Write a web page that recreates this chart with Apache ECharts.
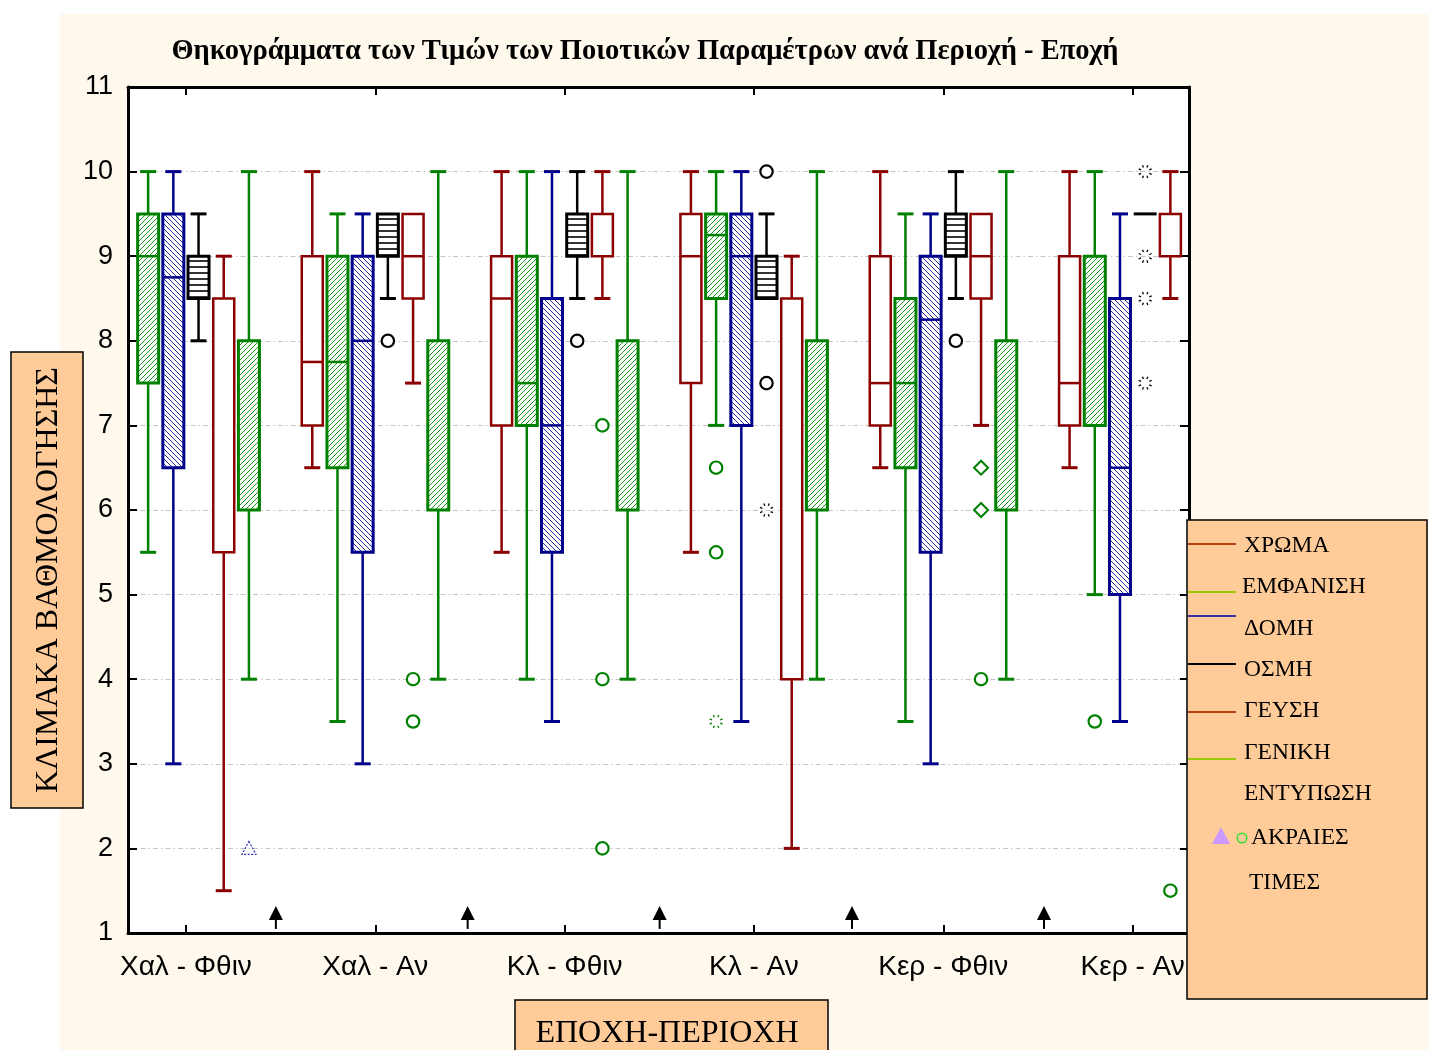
<!DOCTYPE html>
<html><head><meta charset="utf-8">
<script src="https://cdn.jsdelivr.net/npm/echarts/dist/echarts.min.js"></script>
<style>
html,body{margin:0;padding:0;background:#ffffff;}
#bg{position:absolute;left:60px;top:14px;width:1369px;height:1036px;background:#fef9ec;}
#chart{position:absolute;left:0;top:0;width:1429px;height:1050px;}
</style></head>
<body><div id="bg"></div><div id="chart"></div>
<script>
// ---------- DATA ----------
const categories = ['Χαλ - Φθιν', 'Χαλ - Αν', 'Κλ - Φθιν', 'Κλ - Αν', 'Κερ - Φθιν', 'Κερ - Αν'];
const variableNames = ['ΧΡΩΜΑ', 'ΕΜΦΑΝΙΣΗ', 'ΔΟΜΗ', 'ΟΣΜΗ', 'ΓΕΥΣΗ', 'ΓΕΝΙΚΗ ΕΝΤΥΠΩΣΗ'];
const yTickValues = [1, 2, 3, 4, 5, 6, 7, 8, 9, 10, 11];
// each entry: [min, Q1, median, Q3, max] per category (null = not drawn)
const xrwma   = [null, [6.5, 7, 7.75, 9, 10], [5.5, 7, 8.5, 9, 10], [5.5, 7.5, 9, 9.5, 10], [6.5, 7, 7.5, 9, 10], [6.5, 7, 7.5, 9, 10]];
const emfanisi = [[5.5, 7.5, 9, 9.5, 10], [3.5, 6.5, 7.75, 9, 9.5], [4, 7, 7.5, 9, 10], [7, 8.5, 9.25, 9.5, 10], [3.5, 6.5, 7.5, 8.5, 9.5], [5, 7, 9, 9, 10]];
const domi    = [[3, 6.5, 8.75, 9.5, 10], [3, 5.5, 8, 9, 9.5], [3.5, 5.5, 7, 8.5, 10], [3.5, 7, 9, 9.5, 10], [3, 5.5, 8.25, 9, 9.5], [3.5, 5, 6.5, 8.5, 9.5]];
const osmi    = [[8, 8.5, 9, 9, 9.5], [8.5, 9, 9.5, 9.5, 9.5], [8.5, 9, 9.5, 9.5, 10], [8.5, 8.5, 9, 9, 9.5], [8.5, 9, 9.5, 9.5, 10], [9.5, 9.5, 9.5, 9.5, 9.5]];
const geusi   = [[1.5, 5.5, 8.5, 8.5, 9], [7.5, 8.5, 9, 9.5, 9.5], [8.5, 9, 9, 9.5, 10], [2, 4, 8.5, 8.5, 9], [7, 8.5, 9, 9.5, 9.5], [8.5, 9, 9, 9.5, 10]];
const geniki  = [[4, 6, 8, 8, 10], [4, 6, 8, 8, 10], [4, 6, 8, 8, 10], [4, 6, 8, 8, 10], [4, 6, 8, 8, 10], null];
// outliers: [category index, variable slot, value, marker, colour]
const outliers = [
  [0, 5, 2, 'triangle', 'blue'],
  [1, 3, 8, 'circle', 'black'], [1, 4, 4, 'circle', 'green'], [1, 4, 3.5, 'circle', 'green'],
  [2, 3, 8, 'circle', 'black'], [2, 4, 7, 'circle', 'green'], [2, 4, 4, 'circle', 'green'], [2, 4, 2, 'circle', 'green'],
  [3, 3, 10, 'circle', 'black'], [3, 3, 7.5, 'circle', 'black'], [3, 3, 6, 'star', 'black'],
  [3, 1, 6.5, 'circle', 'green'], [3, 1, 5.5, 'circle', 'green'], [3, 1, 3.5, 'star', 'green'],
  [4, 3, 8, 'circle', 'black'], [4, 4, 6.5, 'diamond', 'green'], [4, 4, 6, 'diamond', 'green'], [4, 4, 4, 'circle', 'green'],
  [5, 3, 10, 'star', 'black'], [5, 3, 9, 'star', 'black'], [5, 3, 8.5, 'star', 'black'], [5, 3, 7.5, 'star', 'black'],
  [5, 1, 3.5, 'circle', 'green'], [5, 4, 1.5, 'circle', 'green']
];
// arrow markers along the bottom: [x position, tip value]
const arrowX = [0.475, 1.488, 2.502, 3.518, 4.532];
const arrowTip = 1.32;

// ---------- STYLE ----------
const COL = { red: '#8b0000', green: '#008000', blue: '#00008b', black: '#000000' };
const SLOT_PX = 25.2, BOX_W = 21, CAP_W = 16;
const X_MIN = -0.306, X_MAX = 5.298;

function makePattern(color, kind) {
  const s = kind === 'h' ? 6 : 5;
  const c = document.createElement('canvas');
  c.width = s; c.height = s;
  const ctx = c.getContext('2d');
  ctx.fillStyle = '#ffffff'; ctx.fillRect(0, 0, s, s);
  ctx.strokeStyle = color; ctx.lineWidth = kind === 'h' ? 1.6 : 1;
  ctx.beginPath();
  if (kind === 'f') {
    ctx.moveTo(-1, s + 1); ctx.lineTo(s + 1, -1);
    ctx.moveTo(-1, 1); ctx.lineTo(1, -1);
    ctx.moveTo(s - 1, s + 1); ctx.lineTo(s + 1, s - 1);
  } else if (kind === 'b') {
    ctx.moveTo(-1, -1); ctx.lineTo(s + 1, s + 1);
    ctx.moveTo(s - 1, -1); ctx.lineTo(s + 1, 1);
    ctx.moveTo(-1, s - 1); ctx.lineTo(1, s + 1);
  } else {
    ctx.moveTo(0, 3); ctx.lineTo(s, 3);
  }
  ctx.stroke();
  return { image: c, repeat: 'repeat' };
}

const seriesDefs = [
  { data: xrwma, color: COL.red, fill: '#ffffff', lw: 2.5 },
  { data: emfanisi, color: COL.green, fill: makePattern('#1a9a1a', 'f'), lw: 3 },
  { data: domi, color: COL.blue, fill: makePattern('#2a2aa0', 'b'), lw: 3 },
  { data: osmi, color: COL.black, fill: makePattern('#000000', 'h'), lw: 3 },
  { data: geusi, color: COL.red, fill: '#ffffff', lw: 2.5 },
  { data: geniki, color: COL.green, fill: makePattern('#1a9a1a', 'f'), lw: 3 }
];

function makeBoxRender(slot, stroke, fill, lw) {
  return function (params, api) {
    const g = api.value(0);
    const ys = [1, 2, 3, 4, 5].map(i => api.coord([g, api.value(i)])[1]);
    const cx = api.coord([g, api.value(1)])[0] + (slot - 2.5) * SLOT_PX;
    const yMin = ys[0], yQ1 = ys[1], yMed = ys[2], yQ3 = ys[3], yMax = ys[4];
    const hw = BOX_W / 2, cw = CAP_W / 2;
    const children = [];
    const ws = { stroke: stroke, lineWidth: 2.5, fill: null };
    const cs = { stroke: stroke, lineWidth: 3, fill: null };
    if (yMax < yQ3 - 0.5) {
      children.push({ type: 'line', shape: { x1: cx, y1: yQ3, x2: cx, y2: yMax }, style: ws });
      children.push({ type: 'line', shape: { x1: cx - cw, y1: yMax, x2: cx + cw, y2: yMax }, style: cs });
    }
    if (yMin > yQ1 + 0.5) {
      children.push({ type: 'line', shape: { x1: cx, y1: yQ1, x2: cx, y2: yMin }, style: ws });
      children.push({ type: 'line', shape: { x1: cx - cw, y1: yMin, x2: cx + cw, y2: yMin }, style: cs });
    }
    if (Math.abs(yQ1 - yQ3) < 0.5) {
      children.push({ type: 'line', shape: { x1: cx - hw - 1, y1: yQ3, x2: cx + hw + 1, y2: yQ3 }, style: cs });
    } else {
      children.push({ type: 'rect', shape: { x: cx - hw, y: yQ3, width: BOX_W, height: yQ1 - yQ3 }, style: { fill: fill, stroke: stroke, lineWidth: lw } });
      if (yMed > yQ3 + 1 && yMed < yQ1 - 1) {
        children.push({ type: 'line', shape: { x1: cx - hw, y1: yMed, x2: cx + hw, y2: yMed }, style: { stroke: stroke, lineWidth: 2.5 } });
      }
    }
    return { type: 'group', children: children };
  };
}

function outlierRender(params, api) {
  const o = outliers[params.dataIndex];
  const p = api.coord([api.value(0), api.value(2)]);
  const x = p[0] + (api.value(1) - 2.5) * SLOT_PX, y = p[1];
  const c = COL[o[4]];
  if (o[3] === 'circle') {
    return { type: 'circle', shape: { cx: x, cy: y, r: 6.2 }, style: { fill: '#ffffff', stroke: c, lineWidth: 2.2 } };
  }
  if (o[3] === 'diamond') {
    return { type: 'polygon', shape: { points: [[x, y - 7], [x + 7, y], [x, y + 7], [x - 7, y]] }, style: { fill: '#ffffff', stroke: c, lineWidth: 2 } };
  }
  if (o[3] === 'triangle') {
    return { type: 'polygon', shape: { points: [[x, y - 7], [x + 7, y + 6], [x - 7, y + 6]] }, style: { fill: null, stroke: '#3030b0', lineWidth: 1.2, lineDash: [2, 1.5] } };
  }
  const ch = [];
  for (let k = 0; k < 8; k++) {
    const a = k * Math.PI / 4 + Math.PI / 8;
    ch.push({ type: 'line', shape: { x1: x + 4.5 * Math.cos(a), y1: y + 4.5 * Math.sin(a), x2: x + 7 * Math.cos(a), y2: y + 7 * Math.sin(a) }, style: { stroke: c, lineWidth: 1.3 } });
  }
  return { type: 'group', children: ch };
}

function arrowRender(params, api) {
  const p = api.coord([api.value(0), api.value(1)]);
  const x = p[0], y = p[1];
  return { type: 'group', children: [
    { type: 'polygon', shape: { points: [[x, y], [x + 7, y + 14], [x - 7, y + 14]] }, style: { fill: '#000' } },
    { type: 'line', shape: { x1: x, y1: y + 12, x2: x, y2: y + 23 }, style: { stroke: '#000', lineWidth: 2 } }
  ] };
}

const series = seriesDefs.map((d, slot) => ({
  type: 'custom',
  name: variableNames[slot],
  xAxisIndex: 0, yAxisIndex: 0,
  clip: true,
  renderItem: makeBoxRender(slot, d.color, d.fill, d.lw),
  encode: { x: 0, y: [1, 2, 3, 4, 5] },
  data: d.data.map((v, g) => v ? [g].concat(v) : null).filter(v => v),
  z: 3
}));
series.push({
  type: 'custom', name: 'outliers', clip: true, z: 4,
  renderItem: outlierRender,
  encode: { x: 0, y: 2 },
  data: outliers.map(o => [o[0], o[1], o[2]])
});
series.push({
  type: 'custom', name: 'arrows', clip: true, z: 4,
  renderItem: arrowRender,
  encode: { x: 0, y: 1 },
  data: arrowX.map(x => [x, arrowTip])
});

const catPositions = categories.map((c, i) => i);
const axisLineStyle = { show: true, onZero: false, lineStyle: { color: '#000', width: 3 } };
const serif = '"Liberation Serif", "Times New Roman", serif';
const sans = '"Liberation Sans", Arial, sans-serif';

// legend
const legendRows = [
  { text: 'ΧΡΩΜΑ', ty: 546, ly: 544, lc: '#b8400c' },
  { text: 'ΕΜΦΑΝΙΣΗ', ty: 587, ly: 592, lc: '#99cc00', tx: 1242 },
  { text: 'ΔΟΜΗ', ty: 629, ly: 616, lc: '#3333aa' },
  { text: 'ΟΣΜΗ', ty: 670, ly: 664, lc: '#000000' },
  { text: 'ΓΕΥΣΗ', ty: 711, ly: 712, lc: '#b8400c' },
  { text: 'ΓΕΝΙΚΗ', ty: 753, ly: 759, lc: '#99cc00' },
  { text: 'ΕΝΤΥΠΩΣΗ', ty: 794 },
  { text: 'ΑΚΡΑΙΕΣ', ty: 838, tx: 1251 },
  { text: 'ΤΙΜΕΣ', ty: 883, tx: 1249 }
];
const graphics = [
  { type: 'text', x: 645, y: 52, z: 100, style: { text: 'Θηκογράμματα των Τιμών των Ποιοτικών Παραμέτρων ανά Περιοχή - Εποχή', font: 'bold 28.5px ' + serif, fill: '#000', textAlign: 'center', textVerticalAlign: 'middle' } },
  { type: 'rect', z: 100, shape: { x: 11, y: 352, width: 72, height: 456 }, style: { fill: '#ffcc99', stroke: '#000', lineWidth: 1.5 } },
  { type: 'text', z: 101, x: 49, y: 580, rotation: Math.PI / 2, style: { text: 'ΚΛΙΜΑΚΑ ΒΑΘΜΟΛΟΓΗΣΗΣ', font: '32px ' + serif, fill: '#000', textAlign: 'center', textVerticalAlign: 'middle' } },
  { type: 'rect', z: 100, shape: { x: 515, y: 1000, width: 313, height: 70 }, style: { fill: '#ffcc99', stroke: '#000', lineWidth: 1.5 } },
  { type: 'text', z: 101, x: 667, y: 1034, style: { text: 'ΕΠΟΧΗ-ΠΕΡΙΟΧΗ', font: '32px ' + serif, fill: '#000', textAlign: 'center', textVerticalAlign: 'middle' } },
  { type: 'rect', z: 100, shape: { x: 1187, y: 520, width: 240, height: 479 }, style: { fill: '#ffcc99', stroke: '#000', lineWidth: 1.5 } }
];
legendRows.forEach(r => {
  if (r.lc) graphics.push({ type: 'line', z: 101, shape: { x1: 1188, y1: r.ly, x2: 1236, y2: r.ly }, style: { stroke: r.lc, lineWidth: 2 } });
  graphics.push({ type: 'text', z: 101, x: r.tx || 1244, y: r.ty, style: { text: r.text, font: '23.5px ' + serif, fill: '#000', textVerticalAlign: 'middle' } });
});
graphics.push({ type: 'polygon', z: 101, shape: { points: [[1221, 827], [1230, 844], [1212, 844]] }, style: { fill: '#cc99ff' } });
graphics.push({ type: 'circle', z: 101, shape: { cx: 1242, cy: 838, r: 4.8 }, style: { fill: null, stroke: '#33dd33', lineWidth: 1.5 } });

const option = {
  animation: false,
  backgroundColor: 'transparent',
  grid: { left: 128, top: 87, width: 1061, height: 846, show: true, backgroundColor: '#ffffff', borderWidth: 0 },
  xAxis: [
    { type: 'value', position: 'bottom', min: X_MIN, max: X_MAX,
      axisLine: axisLineStyle,
      axisTick: { show: true, inside: true, length: 8, customValues: catPositions, lineStyle: { color: '#000', width: 2 } },
      axisLabel: { show: true, customValues: catPositions, formatter: v => categories[Math.round(v)], fontFamily: sans, fontSize: 28, color: '#000', margin: 20 },
      splitLine: { show: false } },
    { type: 'value', position: 'top', min: X_MIN, max: X_MAX,
      axisLine: axisLineStyle,
      axisTick: { show: true, inside: true, length: 8, customValues: catPositions, lineStyle: { color: '#000', width: 2 } },
      axisLabel: { show: false }, splitLine: { show: false } }
  ],
  yAxis: [
    { type: 'value', position: 'left', min: 1, max: 11, interval: 1,
      axisLine: axisLineStyle,
      axisTick: { show: true, inside: true, length: 9, lineStyle: { color: '#000', width: 2 } },
      axisLabel: { fontFamily: sans, fontSize: 27, color: '#000', margin: 15, customValues: yTickValues },
      splitLine: { show: true, lineStyle: { color: '#c4c4c4', width: 1, type: [5, 3, 1.5, 3] } } },
    { type: 'value', position: 'right', min: 1, max: 11, interval: 1,
      axisLine: axisLineStyle,
      axisTick: { show: true, inside: true, length: 9, lineStyle: { color: '#000', width: 2 } },
      axisLabel: { show: false }, splitLine: { show: false } }
  ],
  graphic: graphics,
  series: series
};

const chart = echarts.init(document.getElementById('chart'), null, { renderer: 'canvas' });
chart.setOption(option);
</script>
</body></html>
